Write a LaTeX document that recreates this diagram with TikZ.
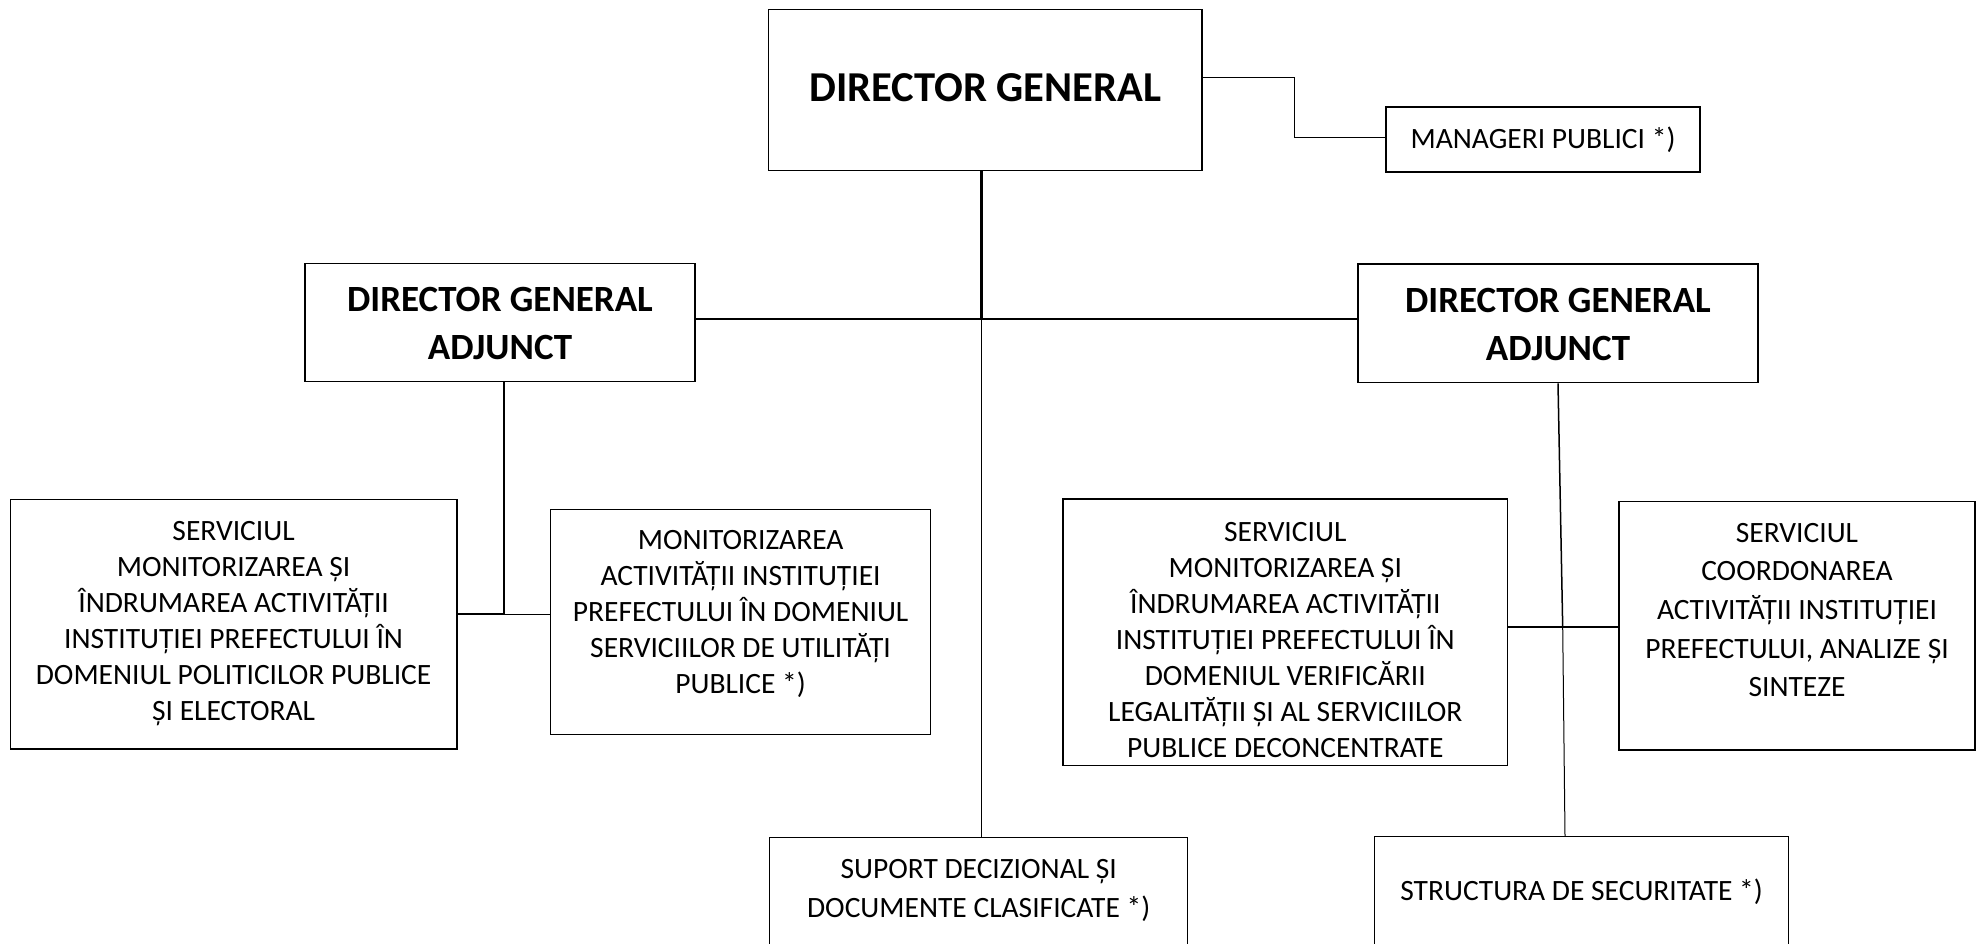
\documentclass[tikz,border=0pt]{standalone}
\usepackage{fontspec}
\setmainfont{Carlito}
\begin{document}
\begin{tikzpicture}[x=1pt,y=-1pt,
  box/.style={draw, line width=1.4pt, inner sep=0pt},
  txt/.style={inner sep=0pt, align=center, anchor=north},
  reg/.style={font=\fontsize{29.5}{36}\selectfont},
  regwide/.style={font=\fontsize{29.5}{38.6}\selectfont},
  bigb/.style={font=\fontsize{42.6}{50}\selectfont\bfseries},
  midb/.style={font=\fontsize{37}{48}\selectfont\bfseries},
  thinln/.style={line width=1pt},
  medln/.style={line width=1.5pt},
  thkln/.style={line width=2.3pt}]
\useasboundingbox (0,0) rectangle (1986,944);
\clip (0,0) rectangle (1986,944);
\fill[white] (0,0) rectangle (1986,944);

% boxes
\node[box, minimum width=433.4pt, minimum height=161.4pt] (dg) at (985.3,90) {};
\node[box, minimum width=314pt, minimum height=65pt] (mp) at (1543,139.5) {};
\node[box, minimum width=390pt, minimum height=118.4pt] (dgaL) at (500,322.5) {};
\node[box, minimum width=400pt, minimum height=118.7pt] (dgaR) at (1558,323.3) {};
\node[box, minimum width=446.4pt, minimum height=249.7pt] (A) at (233.6,624.2) {};
\node[box, minimum width=380.2pt, minimum height=225pt] (B) at (740.6,621.8) {};
\node[box, minimum width=444.6pt, minimum height=266.7pt] (C) at (1285.3,632.3) {};
\node[box, minimum width=356pt, minimum height=248.3pt] (D) at (1797,625.8) {};
\node[box, minimum width=418pt, minimum height=140pt] (E) at (978.7,907.7) {};
\node[box, minimum width=413.8pt, minimum height=140pt] (F) at (1581.6,906.7) {};

% texts
\node[txt, bigb] (dgt) at (985.3,73.5) {DIRECTOR GENERAL};
\node[txt, reg] (mpt) at (1543,127) {MANAGERI PUBLICI *)};
\node[txt, midb] (dgaLt) at (500,287.3) {DIRECTOR GENERAL\\ADJUNCT};
\node[txt, midb] (dgaRt) at (1558,288.3) {DIRECTOR GENERAL\\ADJUNCT};
\node[txt, reg] (At) at (233.6,520.7) {SERVICIUL\\MONITORIZAREA ȘI\\ÎNDRUMAREA ACTIVITĂȚII\\INSTITUȚIEI PREFECTULUI ÎN\\DOMENIUL POLITICILOR PUBLICE\\ȘI ELECTORAL};
\node[txt, reg] (Bt) at (740.6,530) {MONITORIZAREA\\ACTIVITĂȚII INSTITUȚIEI\\PREFECTULUI ÎN DOMENIUL\\SERVICIILOR DE UTILITĂȚI\\PUBLICE *)};
\node[txt, reg] (Ct) at (1285.3,521.7) {SERVICIUL\\MONITORIZAREA ȘI\\ÎNDRUMAREA ACTIVITĂȚII\\INSTITUȚIEI PREFECTULUI ÎN\\DOMENIUL VERIFICĂRII\\LEGALITĂȚII ȘI AL SERVICIILOR\\PUBLICE DECONCENTRATE};
\node[txt, regwide] (Dt) at (1797,523) {SERVICIUL\\COORDONAREA\\ACTIVITĂȚII INSTITUȚIEI\\PREFECTULUI, ANALIZE ȘI\\SINTEZE};
\node[txt, font=\fontsize{29.5}{38.3}\selectfont] (Et) at (978.7,859.5) {SUPORT DECIZIONAL ȘI\\DOCUMENTE CLASIFICATE *)};
\node[txt, reg] (Ft) at (1581.6,879) {STRUCTURA DE SECURITATE *)};

% junction coordinates
\coordinate (j) at (981.6,319);
\coordinate (mpk1) at (1294.5,78);
\coordinate (mpk2) at (1294.5,138);
\coordinate (jl) at (504,614);
\coordinate (jr) at (1562.7,627.3);
\coordinate (jrb) at (1565,836.7);

% connectors
\draw[thinln] (dg.east |- mpk1) -- (mpk1) -- (mpk2) -- (mp.west |- mpk2);
\draw[thkln] (dg.south -| j) -- (j);
\draw[thkln] (dgaL.east |- j) -- (dgaR.west |- j);
\draw[thinln] (j) -- (E.north -| j);
\draw[medln] (dgaL.south -| jl) -- (jl);
\draw[thkln] (A.east |- jl) -- (jl);
\draw[thinln] (jl) -- (B.west |- jl);
\draw[medln] (dgaR.south) -- (jr);
\draw[thinln] (jr) -- (F.north -| jrb);
\draw[thkln] (C.east |- jr) -- (D.west |- jr);
\end{tikzpicture}
\end{document}
